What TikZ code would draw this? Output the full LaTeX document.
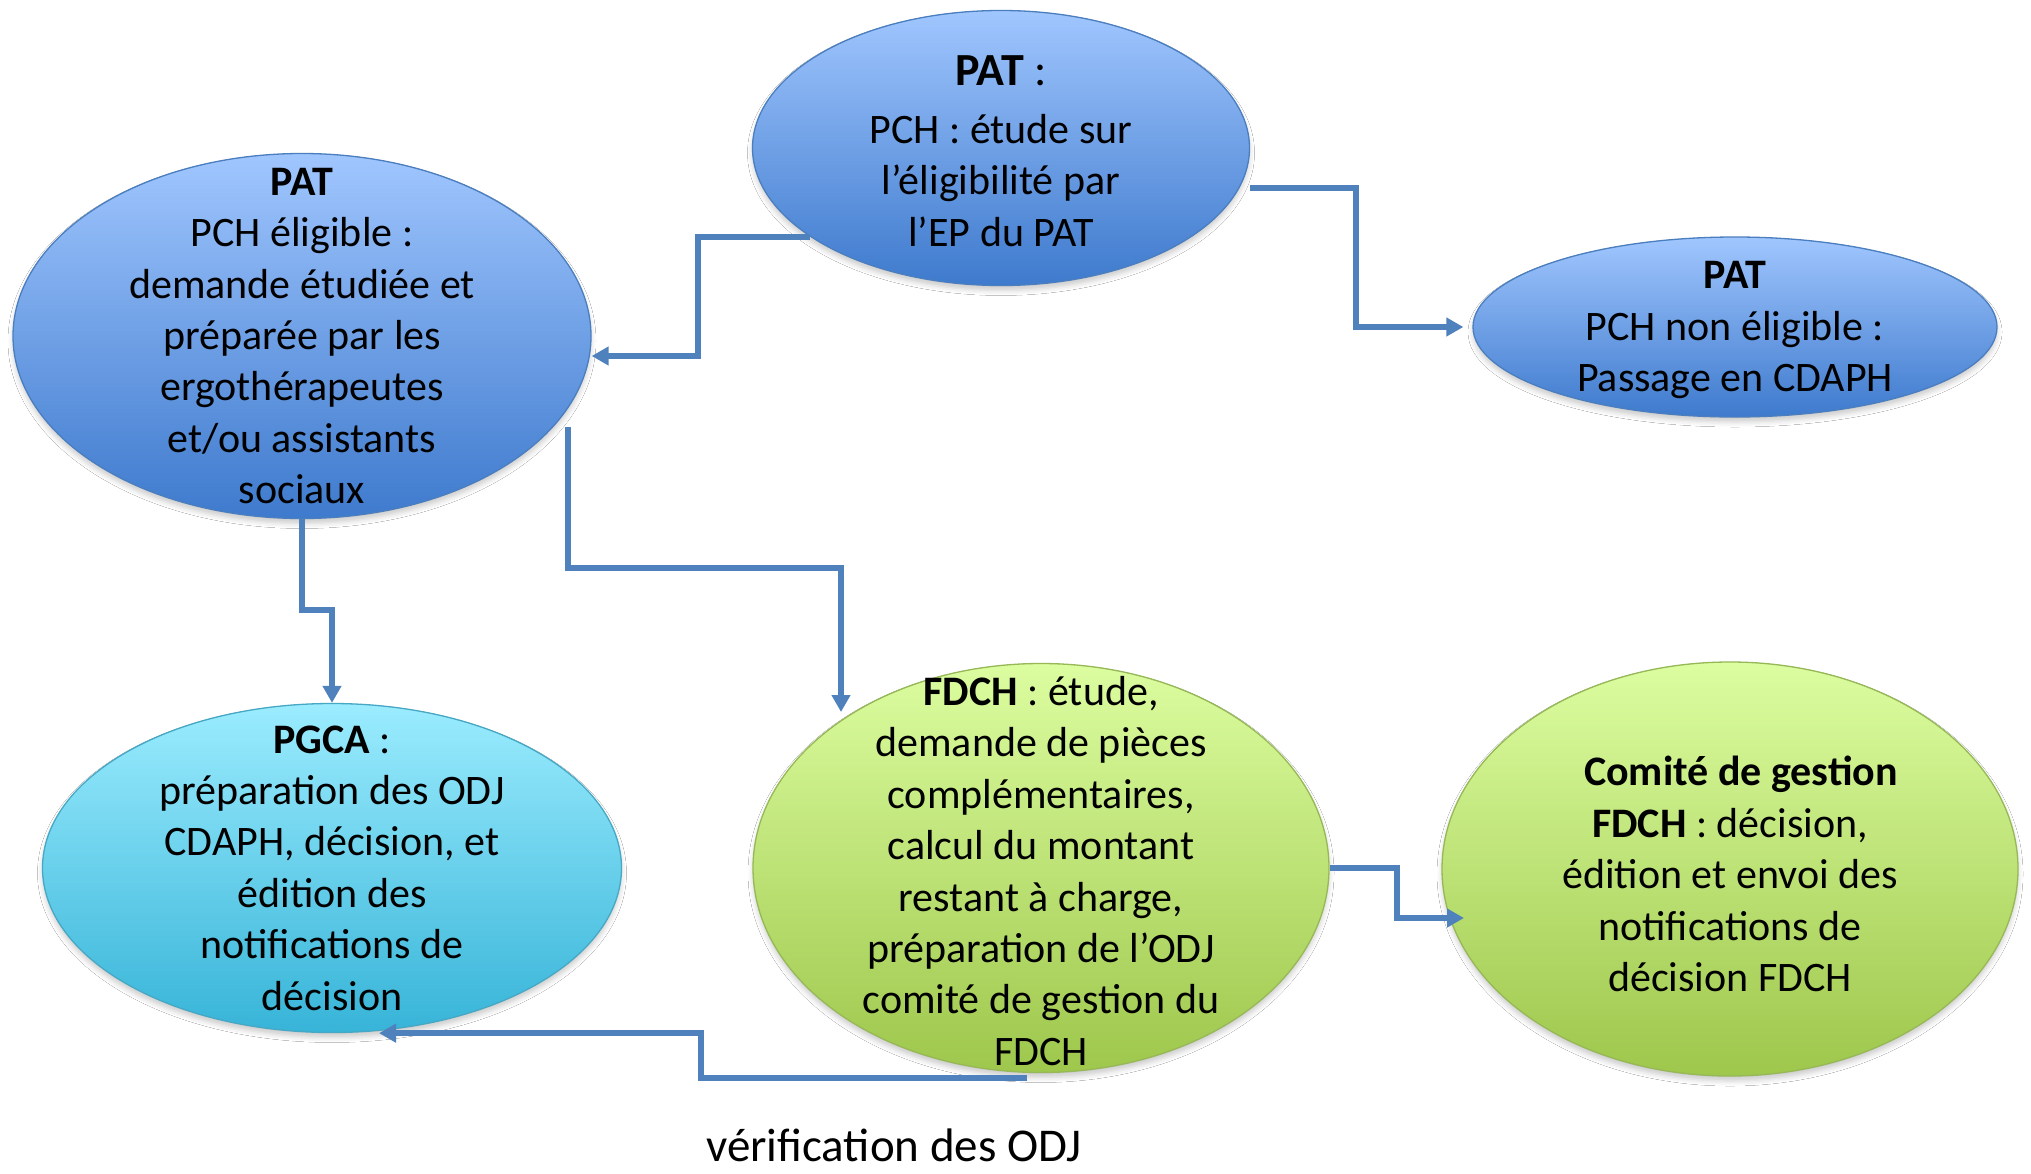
\documentclass[tikz,border=0pt]{standalone}
\usepackage{fontspec}
\setmainfont{Carlito}
\usetikzlibrary{shapes.geometric,arrows.meta,calc,shadows.blur}

\definecolor{blueTop}{RGB}{160,198,254}
\definecolor{blueBot}{RGB}{62,122,205}
\definecolor{blueLine}{RGB}{74,126,190}
\definecolor{cyanTop}{RGB}{155,236,254}
\definecolor{cyanBot}{RGB}{55,180,216}
\definecolor{cyanLine}{RGB}{70,168,196}
\definecolor{greenTop}{RGB}{220,253,160}
\definecolor{greenBot}{RGB}{158,199,76}
\definecolor{greenLine}{RGB}{150,184,86}
\definecolor{connBlue}{RGB}{79,129,189}

\begin{document}
\begin{tikzpicture}[x=1pt,y=-1pt,
  bubble/.style={ellipse, inner sep=0pt, line width=1.3pt,
    blur shadow={shadow xshift=0pt, shadow yshift=-5pt, shadow blur radius=5pt, shadow opacity=20}},
  bluebub/.style={bubble, draw=blueLine, top color=blueTop, bottom color=blueBot},
  cyanbub/.style={bubble, draw=cyanLine, top color=cyanTop, bottom color=cyanBot},
  greenbub/.style={bubble, draw=greenLine, top color=greenTop, bottom color=greenBot},
  txt/.style={align=center, font=\fontsize{42}{51.4}\selectfont, text=black, inner sep=0pt},
  conn/.style={draw=connBlue, line width=6pt, -{Triangle[length=17pt,width=18pt]}}
]
\useasboundingbox (0,0) rectangle (2031,1173);
\fill[white] (0,0) rectangle (2031,1173);

% ellipses
\node[bluebub, minimum width=497pt, minimum height=275pt] (top) at (1001,148) {};
\node[bluebub, minimum width=578pt, minimum height=365pt] (lpat) at (302,336) {};
\node[bluebub, minimum width=524pt, minimum height=180pt] (rpat) at (1735,327) {};
\node[cyanbub, minimum width=579pt, minimum height=329pt] (pgca) at (332,868) {};
\node[greenbub, minimum width=576pt, minimum height=409pt] (fdch) at (1041,868) {};
\node[greenbub, minimum width=576pt, minimum height=414pt] (com) at (1730,869) {};

% texts
\node[txt] (top-t) at ([yshift=-3pt]top.center) {{\fontsize{46}{51.4}\selectfont\textbf{PAT} :}\\[7pt] PCH : étude sur\\ l’éligibilité par\\ l’EP du PAT};
\node[txt] (lpat-t) at (lpat.center) {\textbf{PAT}\\ PCH éligible :\\ demande étudiée et\\ préparée par les\\ ergothérapeutes\\ et/ou assistants\\ sociaux};
\node[txt] (rpat-t) at ([yshift=-3pt]rpat.center) {\textbf{PAT}\\ PCH non éligible :\\ Passage en CDAPH};
\node[txt] (pgca-t) at (pgca.center) {\textbf{PGCA} :\\ préparation des ODJ\\ CDAPH, décision, et\\ édition des\\ notifications de\\ décision};
\node[txt] (fdch-t) at ([yshift=-3pt]fdch.center) {\textbf{FDCH} : étude,\\ demande de pièces\\ complémentaires,\\ calcul du montant\\ restant à charge,\\ préparation de l’ODJ\\ comité de gestion du\\ FDCH};
\node[txt] (com-t) at ([yshift=-5pt]com.center) {\hspace*{22pt}\textbf{Comité de gestion}\\ \textbf{FDCH} : décision,\\ édition et envoi des\\ notifications de\\ décision FDCH};
\node[txt, font=\fontsize{47}{56}\selectfont, anchor=base] (verif) at (894,1161) {vérification des ODJ};

% connectors
\draw[conn] (top.205) -- ++(-112,0) |- ([yshift=-20pt]lpat.east);
\draw[conn] ([yshift=-40pt]top.east) -- ++(106,0) |- ([xshift=-9pt]rpat.west);
\draw[conn] (lpat.south) -- ++(0,91) -| (pgca.north);
\draw[conn] ($(lpat.center)+(266,91)$) -- ++(0,141) -| ($(fdch.center)+(-200,-156)$);
\draw[conn] (fdch.east) -- ++(67,0) |- ($(com.center)+(-266,49)$);
\draw[conn] ($(fdch.south)+(-14,5)$) -- ++(-326,0) |- ($(pgca.south)+(47,0)$);
\end{tikzpicture}
\end{document}
